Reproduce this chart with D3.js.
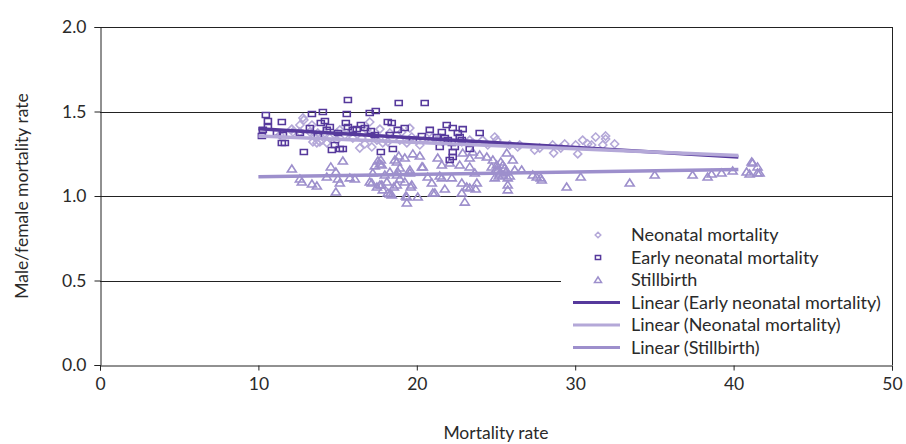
<!DOCTYPE html>
<html><head><meta charset="utf-8">
<script src="https://cdn.jsdelivr.net/npm/d3@7"></script>
<style>body{margin:0;background:#fff}svg{display:block}text{font-family:Lato,"Open Sans",sans-serif;fill:#2a2a2a}</style>
</head><body><svg id="c" width="906" height="444"></svg>
<script>
// Early neonatal mortality [mortality rate, male/female ratio]
const earlyNeonatal = [
[10.47,1.479],[10.60,1.444],[10.60,1.408],[10.22,1.355],[11.48,1.438],[11.17,1.373],[11.55,1.361],[11.48,1.314],[11.67,1.314],
[13.38,1.485],[14.07,1.497],[12.87,1.260],[13.94,1.432],[14.20,1.444],[14.51,1.408],[14.64,1.272],[15.14,1.278],[14.83,1.302],
[15.58,1.485],[15.65,1.568],[15.52,1.432],[17.03,1.491],[17.41,1.503],[18.86,1.550],[20.50,1.550],[15.65,1.408],[16.47,1.420],
[16.21,1.396],[18.17,1.438],[18.42,1.432],[17.10,1.385],[15.33,1.278],[17.73,1.260],[18.49,1.278],[20.32,1.355],[19.75,1.331],
[21.26,1.349],[18.30,1.361],[21.89,1.420],[22.27,1.402],[22.90,1.396],[22.59,1.373],[23.97,1.373],[21.45,1.290],[22.27,1.260],
[22.27,1.231],[22.08,1.213],[22.21,1.314],[21.77,1.343],[23.34,1.278],[22.71,1.349],[21.96,1.331],[12.62,1.373],[13.25,1.402],
[13.75,1.355],[14.32,1.391],[15.02,1.373],[15.96,1.391],[16.72,1.402],[17.35,1.361],[18.80,1.391],[19.24,1.402],[20.82,1.391],
[10.28,1.391],[22.40,1.290],[22.84,1.331],[21.58,1.379]
];
// Neonatal mortality
const neonatal = [
[12.11,1.396],[12.62,1.420],[12.87,1.450],[13.38,1.420],[13.25,1.379],[13.56,1.349],[13.75,1.373],[13.88,1.320],[13.44,1.320],
[14.20,1.373],[14.51,1.343],[14.95,1.373],[15.14,1.391],[15.46,1.361],[14.32,1.314],[14.01,1.331],[13.69,1.314],[14.95,1.331],
[12.62,1.379],[12.18,1.379],[15.77,1.373],[15.96,1.343],[17.03,1.438],[16.85,1.391],[16.53,1.343],[16.40,1.284],[16.72,1.308],
[17.35,1.349],[17.67,1.396],[18.30,1.373],[18.93,1.331],[19.05,1.379],[19.56,1.402],[19.68,1.349],[20.00,1.331],[20.63,1.343],
[21.14,1.337],[17.48,1.331],[17.16,1.290],[17.85,1.314],[18.17,1.320],[19.37,1.314],[20.19,1.302],[21.01,1.349],[21.32,1.331],
[23.34,1.331],[24.16,1.331],[24.92,1.349],[25.05,1.331],[26.50,1.302],[23.53,1.314],[22.84,1.320],[25.87,1.302],[24.48,1.302],
[21.64,1.320],[27.76,1.284],[28.58,1.302],[28.64,1.254],[29.09,1.284],[29.34,1.308],[30.03,1.302],[30.16,1.249],[30.47,1.331],
[30.79,1.308],[31.29,1.349],[31.92,1.355],[31.92,1.337],[31.74,1.302],[32.49,1.308],[26.37,1.290],[31.04,1.302],[27.44,1.272],
[12.81,1.462],[11.36,1.361]
];
// Stillbirth
const stillbirth = [
[12.11,1.160],[12.62,1.101],[12.74,1.083],[13.38,1.071],[13.69,1.059],[14.57,1.172],[14.89,1.142],[15.02,1.101],[15.14,1.077],
[14.32,1.112],[14.89,1.024],[15.33,1.207],[15.77,1.107],[16.09,1.101],[17.03,1.083],[17.35,1.178],[17.54,1.207],[17.67,1.189],
[17.79,1.183],[17.98,1.124],[18.11,1.083],[17.67,1.065],[17.48,1.053],[18.17,1.018],[18.30,1.012],[18.74,1.201],[18.86,1.237],
[19.24,1.225],[19.75,1.249],[20.19,1.237],[18.93,1.166],[18.74,1.124],[19.56,1.136],[20.32,1.172],[19.24,1.083],[18.74,1.065],
[18.55,1.053],[19.37,0.994],[19.68,1.065],[20.06,0.994],[19.37,0.959],[21.01,1.018],[21.32,1.225],[21.58,1.183],[21.58,1.107],
[22.08,1.195],[22.21,1.107],[22.71,1.183],[22.84,1.077],[22.84,1.018],[23.15,1.053],[23.03,0.964],[23.34,1.172],[23.66,1.136],
[23.79,1.077],[23.53,1.260],[23.97,1.243],[24.42,1.231],[24.73,1.172],[24.80,1.213],[25.05,1.183],[25.11,1.154],[25.43,1.183],
[25.68,1.254],[25.74,1.065],[26.06,1.213],[26.18,1.154],[26.62,1.154],[27.32,1.124],[27.57,1.112],[24.98,1.154],[25.24,1.136],
[25.43,1.124],[25.62,1.142],[25.87,1.118],[25.17,1.118],[25.55,1.166],[24.92,1.107],[25.74,1.107],[25.30,1.201],[21.45,1.118],
[21.14,1.018],[21.77,1.041],[23.34,1.047],[23.72,1.041],[25.74,1.036],[22.90,1.254],[23.34,1.225],[17.73,1.213],[18.61,1.213],
[17.22,1.136],[17.16,1.077],[19.56,1.154],[20.38,1.172],[18.93,1.101],[19.62,1.053],[17.85,1.036],[18.42,1.006],[19.31,1.000],
[17.79,1.065],[18.80,1.142],[18.30,1.142],[20.69,1.112],[20.95,1.077],[27.82,1.107],[27.89,1.095],[29.46,1.053],[30.35,1.112],
[33.44,1.077],[35.02,1.124],[37.41,1.124],[38.36,1.112],[38.61,1.130],[39.24,1.136],[39.94,1.148],[40.82,1.142],[41.01,1.130],
[41.14,1.201],[41.20,1.195],[41.51,1.172],[41.51,1.136],[41.64,1.136]
];
// Linear trend lines: endpoints [x, y]
const trendEarly = [[10.0,1.398],[40.3,1.231]];
const trendNeonatal = [[10.0,1.355],[40.3,1.240]];
const trendStill = [[10.0,1.114],[40.3,1.157]];
const xTicks = [0,10,20,30,40,50];
const yTicks = [0,0.5,1.0,1.5,2.0];
const legendLabels = ["Neonatal mortality","Early neonatal mortality","Stillbirth",
  "Linear (Early neonatal mortality)","Linear (Neonatal mortality)","Linear (Stillbirth)"];

const C = {early:"#56399c", neo:"#b4a8d8", still:"#9d8fcc"};
const svg = d3.select("#c");
const x = d3.scaleLinear().domain([0,50]).range([100,892]);
const y = d3.scaleLinear().domain([0,2]).range([365,27]);

// grid lines
svg.append("g").selectAll("line").data(yTicks.filter(d=>d>0)).join("line")
  .attr("x1",x(0)).attr("x2",x(50)).attr("y1",d=>Math.round(y(d))+0.5).attr("y2",d=>Math.round(y(d))+0.5)
  .attr("stroke","#222").attr("stroke-width",1);
// right border
svg.append("line").attr("x1",x(50)+0.5).attr("x2",x(50)+0.5).attr("y1",Math.round(y(2))).attr("y2",Math.round(y(0)))
  .attr("stroke","#222");

// axes
const xa = svg.append("g").attr("transform",`translate(0,${Math.round(y(0))+0.5})`)
  .call(d3.axisBottom(x).tickValues(xTicks).tickSize(5).tickPadding(7).tickFormat(d3.format("d")));
const ya = svg.append("g").attr("transform",`translate(${Math.round(x(0))+0.5},0)`)
  .call(d3.axisLeft(y).tickValues(yTicks).tickSize(6).tickPadding(8).tickFormat(d3.format(".1f")));
[xa,ya].forEach(a=>{a.select(".domain").attr("stroke","#222");a.selectAll(".tick line").attr("stroke","#222");
  a.selectAll("text").style("font-size","17.5px").attr("fill","#2a2a2a")});

// markers
const diamond = "M0,-4L4,0L0,4L-4,0Z";
const square = "M-3.5,-2.5H3.5V2.5H-3.5Z";
const tri = "M0,-4L4.5,3L-4.5,3Z";
function pts(data, path, col){
  svg.append("g").selectAll("path").data(data).join("path")
    .attr("d",path).attr("transform",d=>`translate(${x(d[0])},${y(d[1])})`)
    .attr("fill","none").attr("stroke",col).attr("stroke-width",1.6);
}
pts(stillbirth, tri, C.still);
pts(neonatal, diamond, C.neo);
pts(earlyNeonatal, square, C.early);

const line = d3.line().x(d=>x(d[0])).y(d=>y(d[1]));
[[trendEarly,C.early],[trendNeonatal,C.neo],[trendStill,C.still]].forEach(([d,c])=>{
  svg.append("path").attr("d",line(d)).attr("stroke",c).attr("stroke-width",3.5).attr("fill","none");
});

// legend
const lg = svg.append("g");
lg.append("rect").attr("x",561).attr("y",222).attr("width",x(50)-561).attr("height",141).attr("fill","#fff");
const ly = i => 235 + i*22.5;
const lDiamond = "M0,-2.8L2.8,0L0,2.8L-2.8,0Z";
const lSquare = "M-2.6,-2H2.6V2H-2.6Z";
const lTri = "M0,-3L3.5,2.4L-3.5,2.4Z";
lg.append("path").attr("d",lDiamond).attr("transform",`translate(598,${ly(0)})`).attr("fill","none").attr("stroke",C.neo).attr("stroke-width",1.5);
lg.append("path").attr("d",lSquare).attr("transform",`translate(598,${ly(1)})`).attr("fill","none").attr("stroke",C.early).attr("stroke-width",1.5);
lg.append("path").attr("d",lTri).attr("transform",`translate(598,${ly(2)})`).attr("fill","none").attr("stroke",C.still).attr("stroke-width",1.5);
[C.early,C.neo,C.still].forEach((c,i)=>{
  lg.append("line").attr("x1",573).attr("x2",620).attr("y1",ly(i+3)).attr("y2",ly(i+3)).attr("stroke",c).attr("stroke-width",3.2);
});
lg.selectAll("text").data(legendLabels).join("text")
  .attr("x",631).attr("y",(d,i)=>ly(i)).attr("dy","0.35em").style("font-size","18px").text(d=>d);

// axis titles
svg.append("text").attr("x",(x(0)+x(50))/2).attr("y",433).attr("dy","0.35em").attr("text-anchor","middle")
  .style("font-size","17.5px").text("Mortality rate");
svg.append("text").attr("transform",`translate(22,${(y(0)+y(2))/2}) rotate(-90)`).attr("dy","0.35em").attr("text-anchor","middle")
  .style("font-size","17.5px").text("Male/female mortality rate");
</script></body></html>
